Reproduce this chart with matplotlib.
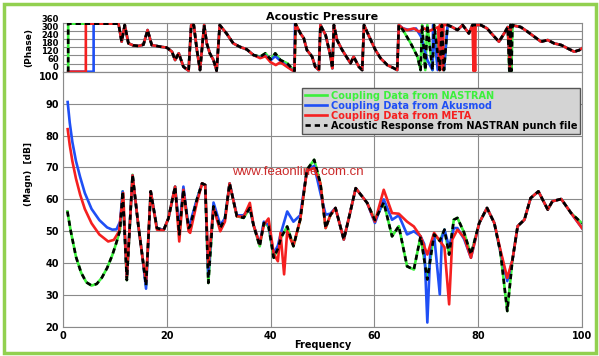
import numpy as np
import matplotlib
matplotlib.use("Agg")
import matplotlib.pyplot as plt
import matplotlib.transforms as mtransforms
from matplotlib.patches import Rectangle

# ------------------------------------------------------------
# data
# ------------------------------------------------------------

# magnitude [dB] - NASTRAN coupling (green) / NASTRAN punch file (black dashed)
nas_f = [0.85, 1.5, 2.5, 3.5, 4.5, 5.5, 6.5, 7.5, 8.5, 9.5, 10.3, 11.0, 11.5, 12.3,
         13.4, 14.5, 15.3, 16.0, 16.9, 18.1, 19.4, 20.3, 21.6, 22.4, 23.2, 24.2,
         24.5, 25.8, 26.8, 27.4, 28.0, 29.0, 30.3, 31.2, 32.1, 33.5, 34.8, 36.0,
         36.7, 37.9, 38.7, 39.6, 40.6, 41.4, 42.0, 43.2, 44.4, 45.7, 47.0, 48.4,
         49.6, 50.6, 51.5, 52.5, 54.1, 55.2, 56.4, 58.6, 60.1, 61.8, 63.4, 64.7,
         66.3, 67.6, 68.9, 70.2, 71.5, 72.6, 73.5, 74.4, 75.3, 76.0, 77.3, 78.6,
         80.2, 81.7, 83.1, 84.3, 85.6, 86.6, 87.6, 88.9, 90.1, 91.6, 93.4, 94.3,
         96.0, 97.9, 100.0]
nas_db = [56.2, 50.0, 42.0, 37.0, 34.0, 33.0, 33.5, 35.5, 38.5, 42.5, 46.5, 50.5, 62.5, 34.7,
          67.7, 52.0, 42.0, 33.0, 62.5, 51.0, 50.4, 54.0, 64.0, 49.0, 63.0, 51.0,
          51.6, 60.0, 65.0, 64.5, 33.8, 57.8, 51.0, 54.0, 65.0, 54.7, 54.2, 57.3,
          52.0, 45.3, 52.6, 51.5, 41.7, 44.5, 48.0, 51.5, 45.3, 53.6, 69.3, 72.4,
          65.0, 51.0, 55.0, 57.3, 47.4, 55.0, 63.5, 58.9, 53.5, 59.0, 48.4, 51.6,
          39.0, 38.0, 48.4, 34.9, 49.0, 47.0, 50.5, 42.7, 53.6, 54.2, 49.5, 42.7,
          52.6, 57.3, 52.6, 43.2, 25.0, 41.0, 51.6, 53.6, 60.4, 62.5, 56.8, 59.4,
          60.1, 55.7, 52.5]

# magnitude [dB] - Akusmod coupling (blue)
aku_f = [0.9, 1.3, 1.8, 2.5, 3.3, 4.2, 5.5, 7.0, 8.5, 9.5, 10.3, 11.0, 11.5, 12.3,
         13.4, 14.5, 15.3, 16.0, 16.9, 18.1, 19.4, 20.3, 21.6, 22.4, 23.2, 24.2,
         25.8, 26.8, 27.4, 28.0, 29.0, 30.3, 31.2, 32.1, 33.5, 34.8, 36.0, 36.7,
         37.9, 38.7, 39.6, 40.6, 41.4, 42.0, 43.2, 44.4, 45.7, 47.0, 48.4, 49.6,
         50.6, 51.5, 52.5, 54.1, 55.2, 56.4, 58.6, 60.1, 61.8, 63.4, 64.7, 66.3,
         67.6, 68.9, 69.6, 70.2, 70.8, 71.5, 72.6, 73.0, 73.5, 74.4, 75.3, 76.0,
         77.3, 78.6, 80.2, 81.7, 83.1, 84.3, 85.6, 86.6, 87.6, 88.9, 90.1, 91.6,
         93.4, 94.3, 96.0, 97.9, 100.0]
aku_db = [90.5, 84.0, 78.0, 72.0, 67.0, 62.0, 57.0, 53.5, 51.2, 50.5, 50.6, 53.0, 62.5, 35.5,
          67.5, 52.0, 42.0, 32.0, 62.5, 51.0, 50.4, 54.0, 64.0, 50.5, 64.0, 51.0,
          60.0, 65.0, 64.5, 36.0, 59.0, 52.0, 54.0, 65.0, 55.0, 55.0, 57.5, 52.0,
          46.0, 53.0, 52.0, 43.0, 45.5, 49.5, 56.2, 53.0, 55.0, 69.0, 70.5, 62.0,
          55.2, 55.5, 57.3, 47.4, 55.0, 63.5, 58.9, 52.6, 60.0, 53.6, 55.0, 49.0,
          50.0, 48.4, 46.0, 21.4, 45.0, 49.0, 30.2, 48.0, 50.5, 45.0, 51.0, 51.0,
          47.5, 41.7, 52.6, 57.3, 52.6, 43.5, 34.4, 41.0, 51.6, 53.6, 60.4, 62.5,
          56.8, 59.4, 60.1, 55.7, 51.0]

# magnitude [dB] - META coupling (red)
meta_f = [0.9, 1.3, 1.8, 2.5, 3.3, 4.2, 5.5, 7.0, 8.7, 9.8, 10.8, 11.6, 12.3,
          13.4, 14.5, 15.3, 16.0, 16.9, 18.1, 19.4, 20.3, 21.6, 22.4, 23.2, 24.2,
          24.5, 25.8, 26.8, 27.4, 28.0, 29.0, 30.3, 31.2, 32.1, 33.5, 34.8, 36.0,
          36.7, 37.9, 38.7, 39.6, 40.6, 41.4, 41.9, 42.6, 43.2, 44.4, 45.7, 47.0,
          48.4, 49.6, 50.6, 51.5, 52.5, 54.1, 55.2, 56.4, 58.6, 60.1, 61.8, 63.4,
          64.7, 66.3, 67.6, 68.9, 70.2, 71.5, 72.6, 73.5, 74.4, 75.0, 76.0, 77.3,
          78.6, 80.2, 81.7, 83.1, 84.3, 85.6, 86.6, 87.6, 88.9, 90.1, 91.6, 93.4,
          94.3, 96.0, 97.9, 100.0]
meta_db = [82.0, 77.0, 72.0, 66.5, 61.5, 57.0, 52.5, 49.0, 46.8, 47.3, 50.0, 62.0, 35.5,
           67.5, 52.0, 42.0, 34.0, 62.5, 50.5, 50.4, 54.0, 64.0, 46.8, 63.0, 50.0,
           49.5, 59.0, 65.0, 64.5, 39.0, 57.5, 50.0, 53.0, 65.0, 54.7, 54.5, 58.9,
           52.0, 46.0, 52.0, 54.0, 43.0, 40.6, 49.5, 36.5, 50.0, 45.5, 53.6, 69.0,
           69.8, 65.0, 51.0, 55.0, 57.3, 47.4, 55.0, 63.5, 58.9, 53.0, 63.0, 55.7,
           55.5, 53.0, 51.5, 48.4, 42.7, 49.5, 47.0, 45.0, 27.1, 47.4, 50.5, 48.0,
           41.7, 52.6, 57.3, 52.6, 44.0, 35.4, 41.0, 51.6, 53.6, 60.4, 62.5, 56.8,
           59.4, 60.1, 55.7, 51.0]

# phase [deg] - NASTRAN (green / black dashed)
nas_ph_f = [1.0, 1.0, 10.7, 11.3, 11.9, 12.6, 13.5, 14.5, 15.5, 16.3, 17.1, 18.7,
            20.0, 21.0, 21.6, 22.3, 23.2, 24.2, 24.7, 25.2, 25.8, 26.4, 27.2, 27.7,
            28.3, 29.0, 29.6, 30.2, 31.5, 32.8, 34.0, 35.4, 36.7, 38.0, 39.0, 40.0,
            40.9, 41.9, 43.2, 44.1, 44.6, 44.8, 45.75, 46.4, 47.0, 48.0, 48.6, 49.3,
            49.6, 50.6, 51.5, 51.9, 52.2, 52.8, 53.8, 54.8, 55.4, 56.0, 57.0, 57.65,
            58.0, 59.0, 60.2, 61.2, 62.5, 63.8, 64.4, 64.7, 65.5, 67.0, 68.3, 68.9,
            69.2, 69.8, 70.2, 71.2, 71.5, 72.6, 73.0, 73.4, 74.1, 75.0, 76.0, 77.0,
            78.2, 78.9, 80.5, 81.7, 83.1, 84.0, 85.0, 85.7, 86.0, 86.2, 86.4, 86.6,
            88.2, 89.5, 90.8, 92.1, 93.4, 94.6, 96.0, 97.2, 98.5, 99.5, 100.0]
nas_ph = [0, 355, 355, 222, 345, 210, 195, 190, 200, 308, 197, 185,
          178, 148, 86, 136, 37, 7, 345, 345, 160, 12, 345, 209,
          135, 86, 7, 345, 283, 210, 185, 165, 123, 111, 136, 91,
          136, 86, 62, 25, 5, 355, 283, 247, 160, 111, 37, 12,
          345, 271, 123, 25, 345, 234, 160, 99, 62, 111, 37, 12,
          345, 259, 160, 99, 49, 25, 12, 345, 308, 210, 111, 12,
          345, 12, 345, 12, 345, 12, 345, 12, 345, 330, 308, 345,
          283, 345, 345, 320, 259, 222, 283, 330, 5, 345, 5, 345,
          330, 296, 259, 222, 234, 210, 197, 173, 148, 160, 173]

# phase [deg] - Akusmod (blue)
aku_ph_f = [1.0, 5.9, 5.9, 10.7, 11.3, 11.9, 12.6, 13.5, 14.5, 15.5, 16.3, 17.1,
            18.7, 20.0, 21.0, 21.6, 22.3, 23.2, 24.2, 24.7, 25.2, 25.8, 26.4, 27.2,
            27.7, 28.3, 29.0, 29.6, 30.2, 31.5, 32.8, 34.0, 35.4, 36.7, 38.0, 39.0,
            40.0, 40.9, 41.9, 43.2, 44.1, 44.6, 44.7, 45.75, 46.4, 47.0, 48.0, 48.6,
            49.3, 49.6, 50.6, 51.5, 51.9, 52.2, 52.8, 53.8, 54.8, 55.4, 56.0, 57.0,
            57.65, 58.0, 59.0, 60.2, 61.2, 62.5, 63.8, 64.4, 64.7, 65.5, 66.8, 68.0,
            69.0, 70.2, 71.2, 71.3, 72.2, 72.7, 73.4, 74.1, 75.0, 76.0, 77.0, 78.2,
            78.9, 80.5, 81.7, 83.1, 84.0, 85.0, 85.7, 86.1, 86.3, 88.2, 89.5, 90.8,
            92.1, 93.4, 94.6, 96.0, 97.2, 98.5, 99.5, 100.0]
aku_ph = [0, 0, 355, 355, 222, 345, 210, 195, 190, 200, 308, 197,
          185, 178, 148, 86, 136, 37, 7, 345, 345, 160, 12, 345,
          209, 135, 86, 7, 345, 283, 210, 185, 165, 123, 105, 120,
          85, 115, 80, 40, 15, 3, 355, 283, 247, 160, 111, 37,
          12, 345, 271, 123, 25, 345, 234, 160, 99, 62, 111, 37,
          12, 345, 259, 160, 99, 49, 25, 12, 345, 320, 308, 320,
          259, 86, 12, 345, 12, 345, 12, 345, 330, 308, 345, 283,
          345, 345, 320, 259, 222, 283, 330, 20, 345, 330, 296, 259,
          222, 234, 210, 197, 173, 148, 160, 173]

# phase [deg] - META (red)
meta_ph_f = [1.0, 4.4, 4.4, 10.7, 11.3, 11.9, 12.6, 13.5, 14.5, 15.5, 16.3, 17.1,
             18.7, 20.0, 21.0, 21.6, 22.3, 23.2, 24.2, 24.7, 25.2, 25.8, 26.4, 27.2,
             27.7, 28.3, 29.0, 29.6, 30.2, 31.5, 32.8, 34.0, 35.4, 36.7, 38.0, 39.0,
             40.0, 41.0, 41.9, 43.2, 44.1, 44.6, 44.8, 45.75, 46.4, 47.0, 48.0, 48.6,
             49.3, 49.6, 50.6, 51.5, 51.9, 52.2, 52.8, 53.8, 54.8, 55.4, 56.0, 57.0,
             57.65, 58.0, 59.0, 60.2, 61.2, 62.5, 63.8, 64.4, 64.7, 65.5, 66.3, 67.6,
             68.6, 69.6, 70.5, 72.3, 72.5, 72.6, 73.1, 73.2, 73.3, 74.1, 75.0, 76.0,
             77.0, 78.2, 78.9, 79.1, 79.2, 79.4, 79.5, 80.5, 81.7, 83.1, 84.0, 85.0,
             85.7, 86.1, 86.3, 88.2, 89.5, 90.8, 92.1, 93.4, 94.6, 96.0, 97.2, 98.5,
             99.5, 100.0]
meta_ph = [0, 0, 355, 355, 222, 345, 210, 195, 190, 200, 308, 197,
           185, 178, 148, 86, 136, 37, 7, 345, 345, 160, 12, 345,
           209, 135, 86, 7, 345, 283, 210, 185, 165, 123, 100, 115,
           70, 49, 70, 35, 12, 3, 355, 283, 247, 160, 111, 37,
           12, 345, 271, 123, 25, 345, 234, 160, 99, 62, 111, 37,
           12, 345, 259, 160, 99, 49, 25, 12, 345, 320, 308, 320,
           296, 320, 300, 330, 12, 345, 345, 12, 345, 345, 330, 308,
           345, 283, 345, 5, 345, 5, 345, 345, 320, 259, 222, 283,
           330, 12, 345, 330, 296, 259, 222, 234, 210, 197, 173, 148,
           160, 173]

legend_labels = ["Coupling Data from NASTRAN", "Coupling Data from Akusmod",
                 "Coupling Data from META", "Acoustic Response from NASTRAN punch file"]

# ------------------------------------------------------------
# styling
# ------------------------------------------------------------
GREEN = "#3cf03c"
BLUE = "#1f4ff5"
RED = "#f52020"
GRID = "#8a8a8a"
LW = 1.9
DASH = (0, (2.0, 1.5))
plt.rcParams["font.family"] = "DejaVu Sans"
plt.rcParams["font.weight"] = "bold"

fig = plt.figure(figsize=(5.99, 3.56), dpi=100)

# green frame around the whole picture
fig.patches.append(Rectangle((4 / 599, 3 / 356), 592 / 599, 349 / 356,
                             transform=fig.transFigure, fill=False,
                             edgecolor="#92d050", linewidth=2.5))

ax_ph = fig.add_axes([63 / 599, 1 - 71.7 / 356, 519 / 599, 48.7 / 356])
ax_m = fig.add_axes([63 / 599, 1 - 327 / 356, 519 / 599, 255.3 / 356])


def draw(ax, f_n, y_n, f_a, y_a, f_m, y_m):
    ax.plot(f_n, y_n, color=GREEN, lw=LW, zorder=3)
    ax.plot(f_a, y_a, color=BLUE, lw=LW, zorder=3)
    ax.plot(f_m, y_m, color=RED, lw=LW, zorder=4)
    ax.plot(f_n, y_n, color="black", lw=LW, ls=DASH, zorder=5)


# ---------------- phase ----------------
draw(ax_ph, nas_ph_f, nas_ph, aku_ph_f, aku_ph, meta_ph_f, meta_ph)
ax_ph.set_xlim(0, 100)
ax_ph.set_ylim(0, 360)
ax_ph.set_yticks(range(0, 361, 60))
ax_ph.set_xticks(range(0, 101, 20))
ax_ph.tick_params(axis="x", labelbottom=False, length=0)
ax_ph.tick_params(axis="y", length=0, labelsize=6, pad=3)
shift_up = mtransforms.ScaledTranslation(0, 3.5 / 72, fig.dpi_scale_trans)
for lab in ax_ph.get_yticklabels():
    lab.set_transform(lab.get_transform() + shift_up)
ax_ph.grid(True, color=GRID, lw=0.8)
ax_ph.set_axisbelow(True)
ax_ph.set_ylabel("(Phase)", fontsize=6.5, fontweight="bold")
ax_ph.set_title("Acoustic Pressure", fontsize=8, fontweight="bold", pad=2)
for s in ax_ph.spines.values():
    s.set_color(GRID)

# ---------------- magnitude ----------------
draw(ax_m, nas_f, nas_db, aku_f, aku_db, meta_f, meta_db)
ax_m.set_xlim(0, 100)
ax_m.set_ylim(20, 100)
ax_m.set_xticks(range(0, 101, 20))
ax_m.set_yticks(range(20, 101, 10))
ax_m.tick_params(length=0, labelsize=7, pad=3)
ax_m.get_yticklabels()[-1].set_verticalalignment("top")
ax_m.grid(True, color=GRID, lw=0.8)
ax_m.set_axisbelow(True)
ax_m.set_xlabel("Frequency", fontsize=7, fontweight="bold")
ax_m.xaxis.set_label_coords(0.5, -0.052)
ax_m.set_ylabel("(Magn)  [dB]", fontsize=6.5, fontweight="bold")
for s in ax_m.spines.values():
    s.set_color(GRID)
ax_m.yaxis.set_label_coords(-0.058, 0.6)
ax_ph.yaxis.set_label_coords(-0.058, 0.5)

handles = [plt.Line2D([], [], color=GREEN, lw=LW),
           plt.Line2D([], [], color=BLUE, lw=LW),
           plt.Line2D([], [], color=RED, lw=LW),
           plt.Line2D([], [], color="black", lw=LW, ls=DASH)]
leg = ax_m.legend(handles, legend_labels, loc="upper right",
                  bbox_to_anchor=(0.996, 0.937), fontsize=7, frameon=True,
                  fancybox=False, facecolor="#d4d4d4", edgecolor="#555555",
                  framealpha=1, handlelength=2.2, handletextpad=0.4,
                  labelspacing=0.0, borderpad=0.3, borderaxespad=0.0)
for txt, c in zip(leg.get_texts(), [GREEN, BLUE, RED, "black"]):
    txt.set_color(c)
    txt.set_fontweight("bold")

# watermark
fig.text(298 / 599, 1 - 172 / 356, "www.feaonline.com.cn", color="#cc2a2a",
         fontsize=9.5, fontweight="normal", family="Liberation Sans",
         ha="center", va="center", zorder=10)

fig.savefig("out.png", dpi=100)
